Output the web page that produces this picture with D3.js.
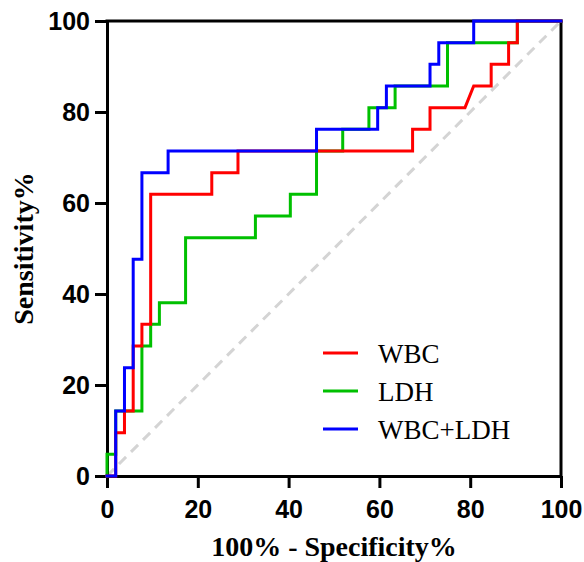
<!DOCTYPE html>
<html>
<head>
<meta charset="utf-8">
<script src="https://cdn.jsdelivr.net/npm/d3@7"></script>
<style>
  html, body { margin: 0; padding: 0; background: #fff; }
  svg { display: block; }
</style>
</head>
<body>
<svg id="chart" width="584" height="562"></svg>
<script>
// ---- Data (ROC curve vertices: 100% - Specificity%, Sensitivity%) ----
const xTicks = [0, 20, 40, 60, 80, 100];
const yTicks = [0, 20, 40, 60, 80, 100];

const seriesNames = ["WBC", "LDH", "WBC+LDH"];
const seriesColors = ["#ff0000", "#00c000", "#0000ff"];

const wbcFpr = [0, 1.92, 1.92, 3.85, 3.85, 5.77, 5.77, 7.69, 7.69, 9.62, 9.62, 23.08, 23.08, 28.85, 28.85, 67.31, 67.31, 71.15, 71.15, 78.85, 80.77, 84.62, 84.62, 88.46, 88.46, 90.38, 90.38, 100];
const wbcTpr = [0, 0, 9.52, 9.52, 14.29, 14.29, 28.57, 28.57, 33.33, 33.33, 61.90, 61.90, 66.67, 66.67, 71.43, 71.43, 76.19, 76.19, 80.95, 80.95, 85.71, 85.71, 90.48, 90.48, 95.24, 95.24, 100, 100];

const ldhFpr = [0, 0, 1.92, 1.92, 7.69, 7.69, 9.62, 9.62, 11.54, 11.54, 17.31, 17.31, 32.69, 32.69, 40.38, 40.38, 46.15, 46.15, 51.92, 51.92, 57.69, 57.69, 63.46, 63.46, 75.00, 75.00, 90.38, 90.38, 100];
const ldhTpr = [0, 4.76, 4.76, 14.29, 14.29, 28.57, 28.57, 33.33, 33.33, 38.10, 38.10, 52.38, 52.38, 57.14, 57.14, 61.90, 61.90, 71.43, 71.43, 76.19, 76.19, 80.95, 80.95, 85.71, 85.71, 95.24, 95.24, 100, 100];

const comboFpr = [0, 1.92, 1.92, 3.85, 3.85, 5.77, 5.77, 7.69, 7.69, 13.46, 13.46, 46.15, 46.15, 59.62, 59.62, 61.54, 61.54, 71.15, 71.15, 73.08, 73.08, 80.77, 80.77, 100];
const comboTpr = [0, 0, 14.29, 14.29, 23.81, 23.81, 47.62, 47.62, 66.67, 66.67, 71.43, 71.43, 76.19, 76.19, 80.95, 80.95, 85.71, 85.71, 90.48, 90.48, 95.24, 95.24, 100, 100];

const refLine = [[0, 0], [100, 100]];

// ---- Drawing ----
const svg = d3.select("#chart");
const x = d3.scaleLinear().domain([0, 100]).range([107, 561]);
const y = d3.scaleLinear().domain([0, 100]).range([476, 21]);

const serif = "'Liberation Serif', 'Times New Roman', serif";
const sans = "'Liberation Sans', Arial, sans-serif";

// diagonal reference
svg.append("path")
  .datum(refLine)
  .attr("d", d3.line().x(d => x(d[0])).y(d => y(d[1])))
  .attr("fill", "none")
  .attr("stroke", "#d4d4d4")
  .attr("stroke-width", 3)
  .attr("stroke-dasharray", "10,7");

// axes
const xAxis = svg.append("g")
  .attr("transform", `translate(0,${y(0)})`)
  .call(d3.axisBottom(x).tickValues(xTicks).tickSize(12).tickSizeOuter(0).tickPadding(12));
const yAxis = svg.append("g")
  .attr("transform", `translate(${x(0)},0)`)
  .call(d3.axisLeft(y).tickValues(yTicks).tickSize(12).tickSizeOuter(0).tickPadding(5));

[xAxis, yAxis].forEach(g => {
  g.select(".domain").attr("stroke", "#000").attr("stroke-width", 3);
  g.selectAll(".tick line").attr("stroke", "#000").attr("stroke-width", 3);
  g.selectAll(".tick text")
    .attr("fill", "#000")
    .style("font-family", sans)
    .style("font-weight", "bold")
    .style("font-size", "25px");
});

// frame top & right
svg.append("line").attr("x1", x(0) - 1.5).attr("x2", x(100) + 1.5).attr("y1", y(100)).attr("y2", y(100))
  .attr("stroke", "#000").attr("stroke-width", 3);
svg.append("line").attr("x1", x(100)).attr("x2", x(100)).attr("y1", y(100)).attr("y2", y(0))
  .attr("stroke", "#000").attr("stroke-width", 3);

// series
const seriesData = [
  d3.zip(wbcFpr, wbcTpr),
  d3.zip(ldhFpr, ldhTpr),
  d3.zip(comboFpr, comboTpr)
];
const drawOrder = [1, 0, 2];
const line = d3.line().x(d => x(d[0])).y(d => y(d[1]));
drawOrder.forEach(i => {
  svg.append("path")
    .datum(seriesData[i])
    .attr("d", line)
    .attr("fill", "none")
    .attr("stroke", seriesColors[i])
    .attr("stroke-width", 3)
    .attr("stroke-linejoin", "miter")
    .attr("stroke-linecap", "square");
});

// legend
const legend = svg.append("g");
seriesNames.forEach((name, i) => {
  const ly = 353 + i * 38;
  legend.append("line")
    .attr("x1", 323).attr("x2", 358).attr("y1", ly).attr("y2", ly)
    .attr("stroke", seriesColors[i]).attr("stroke-width", 3);
  legend.append("text")
    .attr("x", 378).attr("y", ly + 10)
    .style("font-family", serif)
    .style("font-size", "27px")
    .attr("fill", "#000")
    .text(name);
});

// axis titles
svg.append("text")
  .attr("x", (x(0) + x(100)) / 2).attr("y", 556)
  .attr("text-anchor", "middle")
  .style("font-family", serif).style("font-weight", "bold").style("font-size", "28px")
  .text("100% - Specificity%");

svg.append("text")
  .attr("transform", `translate(33,${(y(0) + y(100)) / 2}) rotate(-90)`)
  .attr("text-anchor", "middle")
  .style("font-family", serif).style("font-weight", "bold").style("font-size", "28px")
  .text("Sensitivity%");
</script>
</body>
</html>
